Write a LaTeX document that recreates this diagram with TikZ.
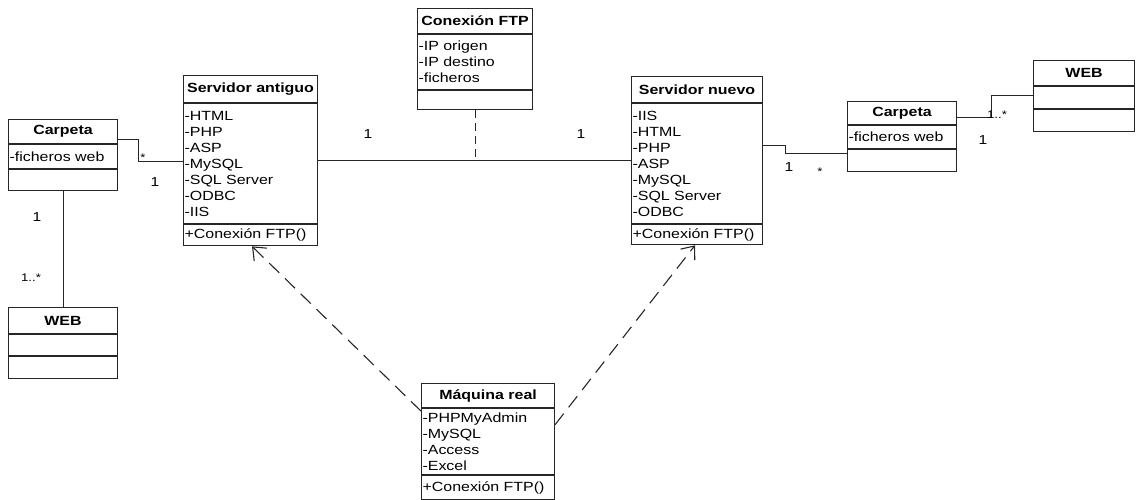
\documentclass[tikz,border=0pt]{standalone}
\usepackage{fontspec}
\setmainfont[FakeStretch=1.2]{Liberation Sans}
\usetikzlibrary{positioning,arrows.meta}

\tikzset{
  hd/.style={draw, font=\fontsize{13.3}{16}\selectfont\bfseries, inner sep=0pt, anchor=north west},
  attrs/.style={draw, font=\fontsize{13.3}{16}\selectfont, align=left, inner xsep=1pt, inner ysep=0pt},
  mult/.style={font=\fontsize{13}{15}\selectfont, inner sep=0pt},
  smallmult/.style={font=\fontsize{11}{13}\selectfont, inner sep=0pt},
  dep/.style={dash pattern=on 14pt off 8pt, -{Straight Barb[length=11pt,width=18pt]}}
}

\begin{document}
\begin{tikzpicture}
	[x=1pt,y=-1pt,line width=1.1pt,draw=black!85]
	\useasboundingbox (0,0) rectangle (1136,500);

	% Carpeta (izq.)
	\node[hd, minimum width=109pt, minimum height=24pt] (carLh) at (8,119) {Carpeta};
	\node[attrs, text width=107pt, minimum height=24pt, below=0pt of carLh] (carLa) {-ficheros web};
	\node[attrs, text width=107pt, minimum height=21pt, below=0pt of carLa] (carLo) {};

	% WEB (izq.)
	\node[hd, minimum width=109pt, minimum height=26pt] (webLh) at (8,307) {WEB};
	\node[attrs, text width=107pt, minimum height=21pt, below=0pt of webLh] (webLa) {};
	\node[attrs, text width=107pt, minimum height=22pt, below=0pt of webLa] (webLo) {};

	% Servidor antiguo
	\node[hd, minimum width=134pt, minimum height=27pt] (sah) at (183,75) {Servidor antiguo};
	\node[attrs, text width=132pt, minimum height=120pt, below=0pt of sah] (saa)
		{-HTML\\-PHP\\-ASP\\-MySQL\\-SQL Server\\-ODBC\\-IIS};
	\node[attrs, text width=132pt, minimum height=21pt, below=0pt of saa] (sao) {+Conexión FTP()};

	% Conexion FTP
	\node[hd, minimum width=115pt, minimum height=25pt] (ftph) at (417,8) {Conexión FTP};
	\node[attrs, text width=113pt, minimum height=55pt, below=0pt of ftph] (ftpa)
		{-IP origen\\-IP destino\\-ficheros};
	\node[attrs, text width=113pt, minimum height=19pt, below=0pt of ftpa] (ftpo) {};

	% Servidor nuevo
	\node[hd, minimum width=131pt, minimum height=26pt] (snh) at (631,76) {Servidor nuevo};
	\node[attrs, text width=129pt, minimum height=120pt, below=0pt of snh] (sna)
		{-IIS\\-HTML\\-PHP\\-ASP\\-MySQL\\-SQL Server\\-ODBC};
	\node[attrs, text width=129pt, minimum height=20pt, below=0pt of sna] (sno) {+Conexión FTP()};

	% Carpeta (der.)
	\node[hd, minimum width=109pt, minimum height=23pt] (carRh) at (847,101) {Carpeta};
	\node[attrs, text width=107pt, minimum height=23pt, below=0pt of carRh] (carRa) {-ficheros web};
	\node[attrs, text width=107pt, minimum height=22pt, below=0pt of carRa] (carRo) {};

	% WEB (der.)
	\node[hd, minimum width=101pt, minimum height=25pt] (webRh) at (1033,60) {WEB};
	\node[attrs, text width=99pt, minimum height=22pt, below=0pt of webRh] (webRa) {};
	\node[attrs, text width=99pt, minimum height=22pt, below=0pt of webRa] (webRo) {};

	% Maquina real
	\node[hd, minimum width=133pt, minimum height=24pt] (mrh) at (421,383) {Máquina real};
	\node[attrs, text width=131pt, minimum height=66pt, below=0pt of mrh] (mra)
		{-PHPMyAdmin\\-MySQL\\-Access\\-Excel};
	\node[attrs, text width=131pt, minimum height=24pt, below=0pt of mra] (mro) {+Conexión FTP()};

	% asociaciones
	\draw ([yshift=5pt]carLh.south east) -- ++(20,0) |- ([yshift=2pt]saa.west);
	\draw (carLo.south) -- (webLh.north);
	\draw ([yshift=3pt]saa.east) -- coordinate[pos=.502] (mid) ([yshift=3pt]sna.west);
	\draw[dash pattern=on 8pt off 5pt] (ftpo.south) -- (ftpo.south |- mid);
	\draw ([yshift=18pt]sna.east) -- ++(22,0) |- ([yshift=7pt]carRo.west);
	\draw ([yshift=-4.5pt]carRh.east) -- ++(34,0) |- ([yshift=2pt]webRa.west);

	% dependencias
	\draw[dep] ([yshift=-3pt]mra.north west) -- ([xshift=69pt]sao.south west);
	\draw[dep] ([yshift=17pt]mra.east) -- ([xshift=64pt]sno.south west);

	% multiplicidades
	\node[smallmult] (m1) at (143,158) {*};
	\node[mult] (m2) at (155,182) {1};
	\node[mult] (m3) at (37,217) {1};
	\node[smallmult] (m4) at (31,278) {1..*};
	\node[mult] (m5) at (368,134) {1};
	\node[mult] (m6) at (581,134) {1};
	\node[mult] (m7) at (789,167) {1};
	\node[smallmult] (m8) at (820,172) {*};
	\node[smallmult] (m9) at (997,115) {1..*};
	\node[mult] (m10) at (983,140) {1};
\end{tikzpicture}
\end{document}
